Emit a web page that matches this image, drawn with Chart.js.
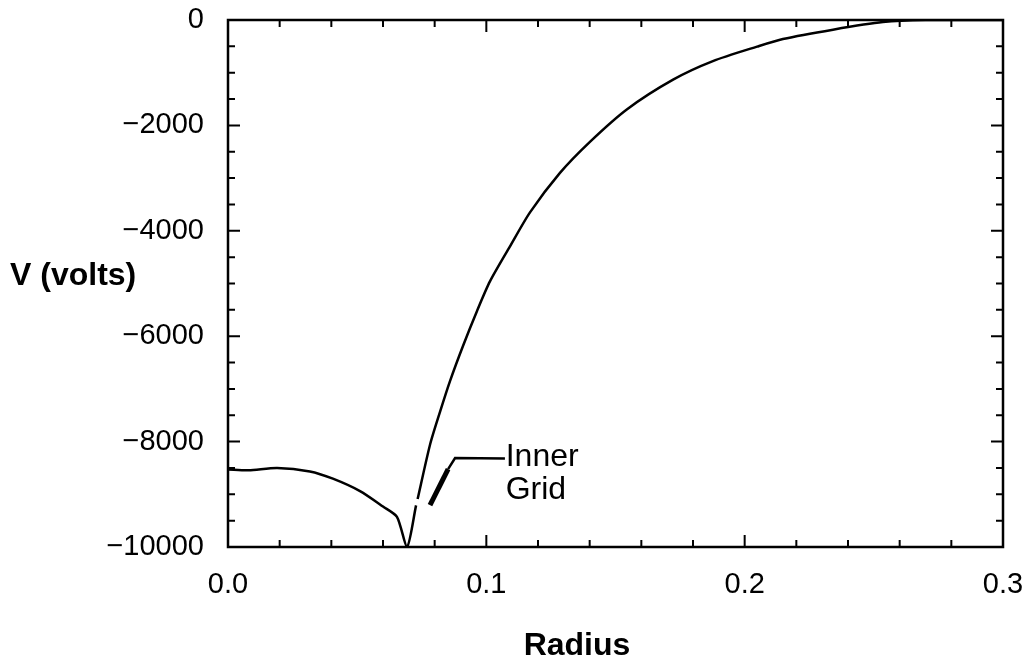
<!DOCTYPE html>
<html>
<head>
<meta charset="utf-8">
<script src="https://cdn.jsdelivr.net/npm/chart.js@4/dist/chart.umd.min.js"></script>
<style>
  html, body { margin: 0; padding: 0; background: #fff; }
  #wrap { width: 1026px; height: 661px; }
</style>
</head>
<body>
<div id="wrap"><canvas id="potentialChart"></canvas></div>
<script>
// Radius (x) and potential in volts (y); null marks the small break near the inner grid
const radius = [0, 0.008, 0.019, 0.0317, 0.0406, 0.0511, 0.060, 0.0654, 0.0693,
  0.0728, 0.0731, 0.0734, 0.0782, 0.0821, 0.0859, 0.0910, 0.0964, 0.1014, 0.1091, 0.1169,
  0.1285, 0.1401, 0.1545, 0.1723, 0.1877, 0.2048, 0.2148, 0.2342, 0.2535, 0.270, 0.300];
const volts = [-8530, -8545, -8500, -8566, -8704, -8940, -9232, -9427, -10000,
  -9210, null, -9090, -8059, -7431, -6856, -6180, -5520, -4960, -4300, -3650,
  -2900, -2311, -1692, -1131, -780, -505, -360, -183, -40, 0, 0];

// Pointer to the "Inner Grid" label, in data units
const pointerX = [0.0782, 0.0852, 0.0879, 0.1072];
const pointerY = [-9205, -8522, -8313, -8322];
const labelX = 0.1075;
const labelLines = ['Inner', 'Grid'];
const labelY = [-8300, -8913];

// Axis ticks
const xMajor = 0.1, xMinor = 0.02;
const yMajor = 2000, yMinor = 500;

const isMultiple = (v, step) => Math.abs(v / step - Math.round(v / step)) < 1e-6;

const FONT = "'Liberation Sans', Arial, sans-serif";

// frame, inward ticks on all four sides, titles and the annotation text
const framePlugin = {
    id: 'framePlugin',
    afterDraw(chart) {
        const { ctx, chartArea: a, scales: { x, y } } = chart;
        ctx.save();
        ctx.strokeStyle = '#000';
        ctx.lineWidth = 2.5;
        ctx.strokeRect(a.left, a.top, a.right - a.left, a.bottom - a.top);

        ctx.lineWidth = 2;
        ctx.beginPath();
        x.ticks.forEach(t => {
            const px = x.getPixelForValue(t.value);
            const len = isMultiple(t.value, xMajor) ? 12 : 7;
            ctx.moveTo(px, a.bottom); ctx.lineTo(px, a.bottom - len);
            ctx.moveTo(px, a.top); ctx.lineTo(px, a.top + len);
        });
        y.ticks.forEach(t => {
            const py = y.getPixelForValue(t.value);
            const len = isMultiple(t.value, yMajor) ? 12 : 7;
            ctx.moveTo(a.left, py); ctx.lineTo(a.left + len, py);
            ctx.moveTo(a.right, py); ctx.lineTo(a.right - len, py);
        });
        ctx.stroke();

        // annotation text
        ctx.fillStyle = '#000';
        ctx.font = '32px ' + FONT;
        ctx.textBaseline = 'middle';
        ctx.textAlign = 'left';
        labelLines.forEach((txt, i) => {
            ctx.fillText(txt, x.getPixelForValue(labelX), y.getPixelForValue(labelY[i]));
        });

        // axis titles
        ctx.font = 'bold 32px ' + FONT;
        ctx.textBaseline = 'alphabetic';
        ctx.textAlign = 'left';
        ctx.fillText('V (volts)', 10, 285);
        ctx.textAlign = 'center';
        ctx.fillText('Radius', 577, 655);
        ctx.restore();
    }
};

new Chart(document.getElementById('potentialChart'), {
    type: 'line',
    data: {
        datasets: [{
            data: radius.map((r, i) => ({ x: r, y: volts[i] })),
            borderColor: '#000',
            borderWidth: 2.5,
            pointRadius: 0,
            tension: 0.25,
            spanGaps: false
        }, {
            data: pointerX.map((r, i) => ({ x: r, y: pointerY[i] })),
            borderColor: '#000',
            borderWidth: 2.5,
            pointRadius: 0,
            tension: 0,
            segment: { borderWidth: c => c.p0DataIndex === 0 ? 5 : 2.5 }
        }]
    },
    options: {
        responsive: true,
        maintainAspectRatio: false,
        animation: false,
        layout: { padding: { top: 20, right: 23, left: 0, bottom: 0 } },
        plugins: { legend: { display: false }, tooltip: { enabled: false } },
        scales: {
            x: {
                type: 'linear',
                min: 0, max: 0.3,
                grid: { display: false },
                border: { display: false },
                afterFit: s => { s.height = 114; s.paddingLeft = 0; s.paddingRight = 0; },
                ticks: {
                    stepSize: xMinor,
                    autoSkip: false,
                    maxRotation: 0,
                    padding: 13,
                    color: '#000',
                    font: { family: FONT, size: 29 },
                    callback: v => isMultiple(v, xMajor) ? v.toFixed(1) : ''
                }
            },
            y: {
                min: -10000, max: 0,
                grid: { display: false },
                border: { display: false },
                afterFit: s => { s.width = 228; s.paddingTop = 0; s.paddingBottom = 0; },
                ticks: {
                    stepSize: yMinor,
                    autoSkip: false,
                    padding: 16,
                    color: '#000',
                    font: { family: FONT, size: 29 },
                    callback: v => isMultiple(v, yMajor) ? (v === 0 ? '0' : '\u2212' + Math.abs(v)) : ''
                }
            }
        }
    },
    plugins: [framePlugin]
});
</script>
</body>
</html>
